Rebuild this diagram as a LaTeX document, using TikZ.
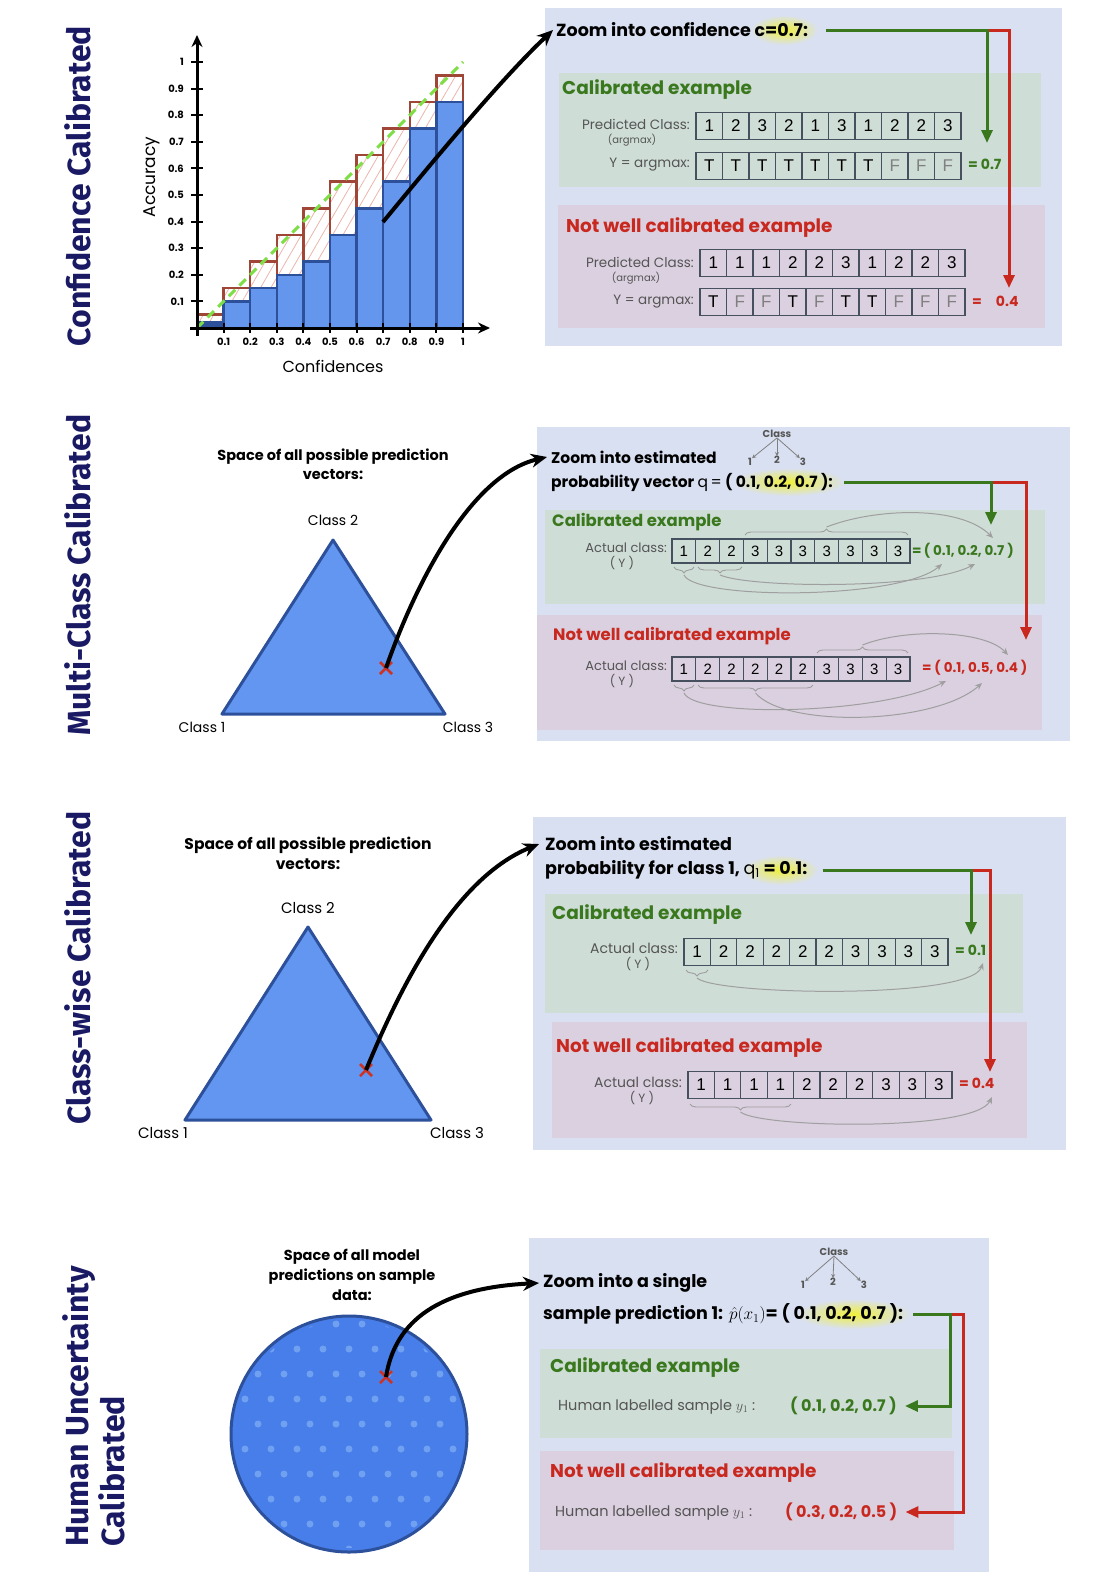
\documentclass[tikz,border=0pt]{standalone}
\usepackage{fontspec}
\setmainfont{Poppins}
\newfontfamily\titlefont{Fira Sans}
\newfontfamily\cellfont{Liberation Sans}
\usepackage{tikz}
\usetikzlibrary{arrows.meta,patterns.meta,decorations.pathreplacing,positioning}

\definecolor{navy}{RGB}{25,25,100}
\definecolor{boxbg}{RGB}{217,224,242}
\definecolor{calbg}{RGB}{207,221,215}
\definecolor{badbg}{RGB}{219,208,224}
\definecolor{calgreen}{RGB}{58,120,30}
\definecolor{badred}{RGB}{200,40,30}
\definecolor{barblue}{RGB}{100,150,238}
\definecolor{bardark}{RGB}{45,80,155}
\definecolor{gapred}{RGB}{160,70,55}
\definecolor{hatchpink}{RGB}{236,180,172}
\definecolor{diaggreen}{RGB}{125,222,70}
\definecolor{greytext}{RGB}{85,85,85}
\definecolor{cellline}{RGB}{70,80,95}
\definecolor{triblue}{RGB}{98,150,240}
\definecolor{circblue}{RGB}{72,126,234}
\definecolor{dotblue}{RGB}{112,160,240}
\definecolor{markred}{RGB}{205,50,35}
\definecolor{hlyellow}{RGB}{240,240,60}

\pgfdeclarelayer{back}
\pgfdeclarelayer{glow}
\pgfsetlayers{back,glow,main}

\tikzset{
  vtitle/.style={rotate=90, text=navy, inner sep=0pt, font=\titlefont\bfseries\fontsize{32}{36}\selectfont},
  hdr/.style={anchor=west, inner sep=0pt, font=\bfseries\fontsize{17.5}{19}\selectfont},
  caltitle/.style={anchor=west, inner sep=0pt, text=calgreen, font=\bfseries\fontsize{18.5}{20}\selectfont},
  badtitle/.style={anchor=west, inner sep=0pt, text=badred, font=\bfseries\fontsize{18.5}{20}\selectfont},
  lbl/.style={anchor=east, inner sep=0pt, text=greytext, font=\fontsize{13.5}{14}\selectfont},
  sublbl/.style={inner sep=0pt, text=greytext, font=\fontsize{10}{10}\selectfont},
  cell/.style={draw=cellline, line width=1.2pt, inner sep=0pt, minimum width=26.5pt, minimum height=26.5pt,
    font=\cellfont\fontsize{17}{17}\selectfont},
  smallcell/.style={cell, minimum width=23.8pt, minimum height=24pt, font=\cellfont\fontsize{15}{15}\selectfont},
  calres/.style={anchor=west, inner sep=0pt, text=calgreen, font=\bfseries\fontsize{14}{14}\selectfont},
  badres/.style={anchor=west, inner sep=0pt, text=badred, font=\bfseries\fontsize{14}{14}\selectfont},
  calline/.style={draw=calgreen, line width=3pt, -{Triangle[length=13pt,width=11pt]}},
  badline/.style={draw=badred, line width=3pt, -{Triangle[length=13pt,width=11pt]}},
  zoomarrow/.style={draw=black, line width=4pt, -{Stealth[length=16pt,width=14pt]}},
  brc/.style={decorate, decoration={brace, amplitude=6pt}, draw=gray!75, line width=0.9pt},
  tally/.style={draw=gray!75, line width=1pt, -{Stealth[length=7pt,width=6pt]}},
  spacetitle/.style={align=center, inner sep=0pt, font=\bfseries\fontsize{14}{19}\selectfont},
  corner/.style={inner sep=0pt, font=\fontsize{14}{14}\selectfont},
  clsmark/.style={inner sep=0pt, text=greytext, font=\bfseries\fontsize{10}{10}\selectfont},
  clsarrow/.style={draw=gray, line width=0.8pt, -{Stealth[length=4pt,width=4pt]}},
  glow/.style={inner color=hlyellow, outer color=boxbg},
  gapbar/.style={draw=gapred, line width=2.5pt, pattern={Lines[angle=60,distance=9pt,line width=0.8pt]}, pattern color=hatchpink},
  accbar/.style={draw=bardark, fill=barblue, line width=2.5pt},
  axis/.style={line width=3pt, -{Stealth[length=12pt,width=11pt]}},
  ticklbl/.style={inner sep=0pt, font=\bfseries\fontsize{10}{10}\selectfont},
  xmark/.style={draw=markred, line width=2.5pt}
}

\begin{document}
\begin{tikzpicture}[x=1pt, y=-1pt]

\useasboundingbox (0,0) rectangle (1114,1585);

% Row titles
\node[vtitle] (tA) at (78,186) {Confidence Calibrated};
\node[vtitle] (tB) at (78,575) {Multi-Class Calibrated};
\node[vtitle] (tC) at (78,968) {Class-wise Calibrated};
\node[vtitle, align=left, anchor=north west] (tD) at (62,1547) {Human Uncertainty\\Calibrated};

%%% Row 1: reliability diagram
\foreach \i/\a/\c in {0/0.02/0.05,1/0.10/0.15,2/0.15/0.25,3/0.20/0.35,4/0.25/0.45,5/0.35/0.55,6/0.45/0.65,7/0.55/0.75,8/0.75/0.85,9/0.85/0.95}
{
    \draw[gapbar] ({197+26.6*\i},{328-266*\a}) rectangle ({197+26.6*(\i+1)},{328-266*\c});
    \draw[accbar] ({197+26.6*\i},328) rectangle ({197+26.6*(\i+1)},{328-266*\a});
}
\fill[bardark] (197,328) rectangle (223.6,322);
\draw[diaggreen, line width=3pt, dash pattern=on 9pt off 6pt] (197,328) -- (463,62);

% Axes
\draw[axis] (197,336) -- (197,35);
\draw[axis] (190,328) -- (490,328);
\foreach \t/\s in {1/0.1,2/0.2,3/0.3,4/0.4,5/0.5,6/0.6,7/0.7,8/0.8,9/0.9,10/1}
{
    \draw[line width=2pt] ({197+26.6*\t},323) -- ({197+26.6*\t},333);
    \draw[line width=2pt] (191,{328-26.6*\t}) -- (203,{328-26.6*\t});
    \node[ticklbl, anchor=north] (xt\t) at ({197+26.6*\t},338) {\s};
    \node[ticklbl, anchor=east] (yt\t) at (184,{328-26.6*\t}) {\s};
}
\node[corner, rotate=90, font=\fontsize{17}{17}\selectfont] (accl) at (152,177) {Accuracy};
\node[corner, font=\fontsize{16}{16}\selectfont] (confl) at (333,366) {Confidences};
\coordinate (ptA) at (383,222);

% Zoom box 1
\begin{pgfonlayer}{back}
\fill[boxbg] (545,8) rectangle (1062,346);
\fill[calbg] (559,73) rectangle (1041,187);
\fill[badbg] (558,205) rectangle (1045,328);
\end{pgfonlayer}
\node[hdr] (hA) at (556,30) {Zoom into confidence c=0.7:};
\begin{pgfonlayer}{glow}
\shade[glow] ([xshift=-24pt]hA.east) ellipse [x radius=34pt, y radius=15pt];
\end{pgfonlayer}

\node[caltitle] (calA) at (562,90) {Calibrated example};
\node[lbl] (pcA) at (690,124) {Predicted Class:};
\node[sublbl] (amA) at (632,140) {(argmax)};
\node[lbl] (yaA) at (690,165) {Y = argmax:};
\foreach \v [count=\k] in {1,2,3,2,1,3,1,2,2,3}
    \node[cell] (pA\k) at ({709.25+26.5*(\k-1)},126) {\v};
\foreach \v/\c [count=\k] in {T/black,T/black,T/black,T/black,T/black,T/black,T/black,F/gray,F/gray,F/gray}
    \node[cell, text=\c] (yA\k) at ({709.25+26.5*(\k-1)},166) {\v};
\node[calres] (eqA) at (968,164) {= 0.7};

\node[badtitle] (badA) at (566,228) {Not well calibrated example};
\node[lbl] (pcB) at (694,262) {Predicted Class:};
\node[sublbl] (amB) at (636,278) {(argmax)};
\node[lbl] (yaB) at (694,302) {Y = argmax:};
\foreach \v [count=\k] in {1,1,1,2,2,3,1,2,2,3}
    \node[cell] (pB\k) at ({713.25+26.5*(\k-1)},263) {\v};
\foreach \v/\c [count=\k] in {T/black,F/gray,F/gray,T/black,F/gray,T/black,T/black,F/gray,F/gray,F/gray}
    \node[cell, text=\c] (yB\k) at ({713.25+26.5*(\k-1)},302) {\v};
\node[badres] (eqB) at (972,301) {=\quad 0.4};

\coordinate (tipA) at (987,143);
\coordinate (tipB) at (1009,288);
\draw[badline] ([xshift=18pt]hA.east) -| (tipB);
\draw[calline] ([xshift=18pt]hA.east) -| (tipA);
\draw[zoomarrow] (ptA) .. controls (430,165) and (500,80) .. ([xshift=-3pt]hA.west);

%%% Row 2: multi-class
\node[spacetitle, font=\bfseries\fontsize{14.5}{19}\selectfont] (spB) at (333,464) {Space of all possible prediction\\vectors:};
\node[corner] (c2B) at (333,520) {Class 2};
\node[corner] (c1B) at (202,727) {Class 1};
\node[corner] (c3B) at (468,727) {Class 3};
\fill[triblue, draw=bardark, line width=3pt, line join=round] (333,540) -- (445,714) -- (222,714) -- cycle;
\coordinate (xB) at (386,668);
\draw[xmark] ([shift={(-6pt,-6pt)}]xB) -- ([shift={(6pt,6pt)}]xB);
\draw[xmark] ([shift={(-6pt,6pt)}]xB) -- ([shift={(6pt,-6pt)}]xB);

% Zoom box 2
\begin{pgfonlayer}{back}
\fill[boxbg] (537,427) rectangle (1070,741);
\fill[calbg] (545,510) rectangle (1045,604);
\fill[badbg] (537,615) rectangle (1042,730);
\end{pgfonlayer}
\node[hdr, font=\bfseries\fontsize{15.5}{17}\selectfont] (hB1) at (551,457) {Zoom into estimated};
\node[hdr, font=\bfseries\fontsize{15.5}{17}\selectfont] (hB2) at (551,482) {probability vector {\mdseries q\,=} ( 0.1, 0.2, 0.7 ):};
\begin{pgfonlayer}{glow}
\shade[glow] ([xshift=-44pt]hB2.east) ellipse [x radius=56pt, y radius=14pt];
\end{pgfonlayer}
\node[clsmark] (clsB) at (777,434) {Class};
\node[clsmark] (k1B) at (750,462) {1};
\node[clsmark] (k2B) at (777,460) {2};
\node[clsmark] (k3B) at (803,462) {3};
\draw[clsarrow] (clsB.south) -- (k1B.north east);
\draw[clsarrow] (clsB.south) -- (k2B.north);
\draw[clsarrow] (clsB.south) -- (k3B.north west);

\node[caltitle, font=\bfseries\fontsize{16.5}{18}\selectfont] (calB) at (552,522) {Calibrated example};
\node[lbl, font=\fontsize{13}{13}\selectfont] (acC) at (667,548) {Actual class:};
\node[lbl, anchor=center, font=\fontsize{12}{12}\selectfont] (yyC) at (622,563) {( Y )};
\foreach \v [count=\k] in {1,2,2,3,3,3,3,3,3,3}
    \node[smallcell] (aC\k) at ({683.9+23.8*(\k-1)},551) {\v};
\node[calres, font=\bfseries\fontsize{13.5}{14}\selectfont] (eqC) at (912,551) {=\,( 0.1, 0.2, 0.7 )};

\node[badtitle, font=\bfseries\fontsize{16.5}{18}\selectfont] (badB) at (553,636) {Not well calibrated example};
\node[lbl, font=\fontsize{13}{13}\selectfont] (acD) at (667,666) {Actual class:};
\node[lbl, anchor=center, font=\fontsize{12}{12}\selectfont] (yyD) at (622,681) {( Y )};
\foreach \v [count=\k] in {1,2,2,2,2,2,3,3,3,3}
    \node[smallcell] (aD\k) at ({683.9+23.8*(\k-1)},669) {\v};
\node[badres, font=\bfseries\fontsize{13.5}{14}\selectfont] (eqD) at (922,668) {= ( 0.1, 0.5, 0.4 )};

% counting braces
\draw[brc] (745,535) -- (908,535);
\draw[brc] (694,567) -- (674,567);
\draw[brc] (742,567) -- (698,567);
\coordinate (bC0) at (826.5,527);
\coordinate (bC1) at (684,575);
\coordinate (bC2) at (720,575);
\coordinate (tC0) at (993,538);
\coordinate (tC1) at (942,564);
\coordinate (tC2) at (975,564);
\draw[tally] (bC0) .. controls (875,508) and (960,505) .. (tC0);
\draw[tally] (bC1) .. controls (695,600) and (900,600) .. (tC1);
\draw[tally] (bC2) .. controls (750,588) and (925,590) .. (tC2);

\draw[brc] (817,653) -- (908,653);
\draw[brc] (694,685) -- (674,685);
\draw[brc] (813,685) -- (698,685);
\coordinate (bD0) at (862.5,645);
\coordinate (bD1) at (684,693);
\coordinate (bD2) at (755.5,693);
\coordinate (tD0) at (1008,655);
\coordinate (tD1) at (946,681);
\coordinate (tD2) at (982,683);
\draw[tally] (bD0) .. controls (905,628) and (985,630) .. (tD0);
\draw[tally] (bD1) .. controls (695,718) and (880,715) .. (tD1);
\draw[tally] (bD2) .. controls (785,728) and (935,725) .. (tD2);

\coordinate (tipC) at (991,525);
\coordinate (tipD) at (1026,640);
\draw[badline] ([xshift=11pt]hB2.east) -| (tipD);
\draw[calline] ([xshift=11pt]hB2.east) -| (tipC);
\draw[zoomarrow] (xB) .. controls (415,585) and (470,475) .. ([xshift=-4pt]hB1.west);

%%% Row 3: class-wise
\node[spacetitle, font=\bfseries\fontsize{15.5}{20}\selectfont] (spC) at (308,853) {Space of all possible prediction\\vectors:};
\node[corner, font=\fontsize{15}{15}\selectfont] (c2C) at (308,908) {Class 2};
\node[corner, font=\fontsize{15}{15}\selectfont] (c1C) at (163,1133) {Class 1};
\node[corner, font=\fontsize{15}{15}\selectfont] (c3C) at (457,1133) {Class 3};
\fill[triblue, draw=bardark, line width=3pt, line join=round] (308,927) -- (431,1120) -- (185,1120) -- cycle;
\coordinate (xC) at (366,1070);
\draw[xmark] ([shift={(-6pt,-6pt)}]xC) -- ([shift={(6pt,6pt)}]xC);
\draw[xmark] ([shift={(-6pt,6pt)}]xC) -- ([shift={(6pt,-6pt)}]xC);

% Zoom box 3
\begin{pgfonlayer}{back}
\fill[boxbg] (533,817) rectangle (1066,1150);
\fill[calbg] (545,894) rectangle (1023,1013);
\fill[badbg] (552,1022) rectangle (1027,1138);
\end{pgfonlayer}
\node[hdr] (hC1) at (545,844) {Zoom into estimated};
\node[hdr] (hC2) at (545,870) {probability for class 1, {\mdseries q\textsubscript{1}} = 0.1:};
\begin{pgfonlayer}{glow}
\shade[glow] ([xshift=-27pt]hC2.east) ellipse [x radius=38pt, y radius=15pt];
\end{pgfonlayer}

\node[caltitle] (calC) at (552,915) {Calibrated example};
\node[lbl, font=\fontsize{14}{14}\selectfont] (acE) at (678,948) {Actual class:};
\node[lbl, anchor=center, font=\fontsize{12}{12}\selectfont] (yyE) at (638,964) {( Y )};
\foreach \v [count=\k] in {1,2,2,2,2,2,3,3,3,3}
    \node[cell] (aE\k) at ({697.2+26.4*(\k-1)},952) {\v};
\node[calres] (eqE) at (955,950) {= 0.1};

\node[badtitle] (badC) at (556,1048) {Not well calibrated example};
\node[lbl, font=\fontsize{14}{14}\selectfont] (acF) at (682,1082) {Actual class:};
\node[lbl, anchor=center, font=\fontsize{12}{12}\selectfont] (yyF) at (642,1098) {( Y )};
\foreach \v [count=\k] in {1,1,1,1,2,2,2,3,3,3}
    \node[cell] (aF\k) at ({701.2+26.4*(\k-1)},1085) {\v};
\node[badres] (eqF) at (959,1083) {= 0.4};

\draw[brc] (708,970) -- (686,970);
\draw[brc] (791,1104) -- (690,1104);
\coordinate (bE) at (697,978);
\coordinate (bF) at (740.5,1112);
\coordinate (tE) at (983,963);
\coordinate (tF) at (992,1097);
\draw[tally] (bE) .. controls (715,995) and (970,1000) .. (tE);
\draw[tally] (bF) .. controls (760,1128) and (975,1132) .. (tF);

\coordinate (tipE) at (971,935);
\coordinate (tipF) at (990,1072);
\draw[badline] ([xshift=15pt]hC2.east) -| (tipF);
\draw[calline] ([xshift=15pt]hC2.east) -| (tipE);
\draw[zoomarrow] (xC) .. controls (395,1000) and (450,880) .. ([xshift=-6pt]hC1.west);

%%% Row 4: human uncertainty
\node[spacetitle, font=\bfseries\fontsize{14.5}{20}\selectfont] (spD) at (352,1275) {Space of all model\\predictions on sample\\data:};
\fill[circblue, draw=bardark, line width=3pt] (349,1434) circle [radius=118pt];
\begin{scope}
    \clip (349,1434) circle [radius=114pt];
    \foreach \i in {0,...,9}
        \foreach \j in {0,...,9}
            \fill[dotblue] ({232+26*\i+13*mod(\j,2)},{1324+25*\j}) circle [radius=3.5pt];
\end{scope}
\coordinate (xD) at (386,1377);
\draw[xmark] ([shift={(-6pt,-6pt)}]xD) -- ([shift={(6pt,6pt)}]xD);
\draw[xmark] ([shift={(-6pt,6pt)}]xD) -- ([shift={(6pt,-6pt)}]xD);

% Zoom box 4
\begin{pgfonlayer}{back}
\fill[boxbg] (529,1238) rectangle (989,1572);
\fill[calbg] (540,1349) rectangle (952,1438);
\fill[badbg] (540,1451) rectangle (954,1550);
\end{pgfonlayer}
\node[hdr] (hD1) at (543,1283) {Zoom into a single};
\node[hdr] (hD2) at (543,1314) {sample prediction 1:\,\,{\mdseries$\hat{p}(x_1)$}= ( 0.1, 0.2, 0.7 ):};
\begin{pgfonlayer}{glow}
\shade[glow] ([xshift=-50pt]hD2.east) ellipse [x radius=58pt, y radius=15pt];
\end{pgfonlayer}
\node[clsmark] (clsD) at (834,1252) {Class};
\node[clsmark] (k1D) at (803,1285) {1};
\node[clsmark] (k2D) at (833,1282) {2};
\node[clsmark] (k3D) at (864,1285) {3};
\draw[clsarrow] (clsD.south) -- (k1D.north east);
\draw[clsarrow] (clsD.south) -- (k2D.north);
\draw[clsarrow] (clsD.south) -- (k3D.north west);

\node[caltitle] (calD) at (550,1368) {Calibrated example};
\node[lbl, anchor=west, font=\fontsize{14.5}{15}\selectfont] (huG) at (558,1407) {Human labelled sample $y_1$ :};
\node[calres, font=\bfseries\fontsize{16}{16}\selectfont] (resG) at (790,1406) {( 0.1, 0.2, 0.7 )};
\node[badtitle] (badD) at (550,1473) {Not well calibrated example};
\node[lbl, anchor=west, font=\fontsize{14.5}{15}\selectfont] (huH) at (555,1513) {Human labelled sample $y_1$ :};
\node[badres, font=\bfseries\fontsize{16}{16}\selectfont] (resH) at (785,1512) {( 0.3, 0.2, 0.5 )};

\draw[badline] ([xshift=10pt]hD2.east) -- ++(50,0) |- ([xshift=8pt]resH.east);
\draw[calline] ([xshift=10pt]hD2.east) -- ++(37,0) |- ([xshift=8pt]resG.east);
\draw[zoomarrow] (xD) .. controls (395,1320) and (440,1288) .. ([xshift=-4pt]hD1.west);

\end{tikzpicture}
\end{document}
